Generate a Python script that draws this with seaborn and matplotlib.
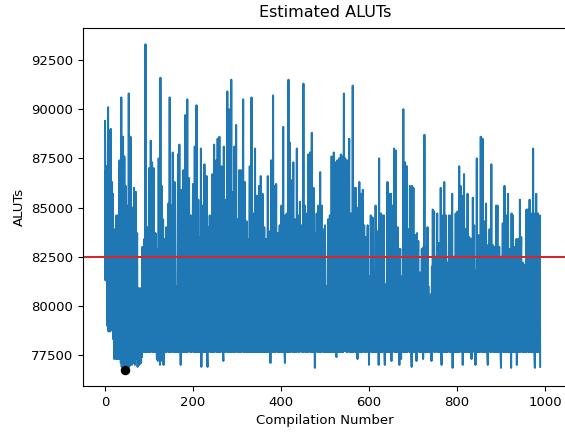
import numpy as np
import pandas as pd
import matplotlib
matplotlib.use("Agg")
import matplotlib.pyplot as plt
import seaborn as sns

# Estimated ALUT count for each compilation, in runs of 200 compilations
aluts_000 = [
    89400, 81300, 86900, 81400, 87100, 79000, 84500, 90100, 78700, 86000,
    79100, 88900, 78700, 89000, 80500, 78800, 86300, 79200, 85700, 78300,
    82600, 77300, 83900, 77400, 81000, 77300, 84600, 78100, 77300, 84600,
    79800, 77300, 82000, 87400, 77300, 80800, 77100, 90600, 76900, 84000,
    77200, 88600, 77000, 83000, 87600, 76750, 82000, 86100, 76900, 80500,
    85100, 77000, 84000, 77100, 90800, 76900, 82300, 77000, 88600, 77300,
    80000, 77000, 85000, 77300, 81000, 77100, 86000, 78000, 77000, 81000,
    85800, 77300, 79500, 83700, 76900, 80000, 77400, 80900, 77000, 80500,
    77300, 80900, 77100, 79500, 77400, 83000, 77700, 81500, 77650, 83400,
    78000, 77650, 93300, 77700, 81000, 77650, 84000, 77650, 80500, 77700,
    87000, 77650, 83000, 77650, 88400, 77700, 81500, 87300, 77650, 79000,
    77650, 87000, 77700, 82000, 77650, 83700, 77650, 80000, 77300, 82900,
    77200, 80500, 87500, 77650, 83000, 77000, 91600, 77650, 82000, 86100,
    77200, 80000, 84400, 77000, 81000, 77650, 83400, 77650, 80000, 84000,
    77650, 81500, 77700, 82500, 85200, 77650, 80000, 90600, 77650, 83000,
    77650, 85100, 77700, 81000, 87800, 77650, 82000, 77650, 86300, 86200,
    77650, 81000, 77700, 81000, 77650, 83000, 87700, 77650, 80500, 88200,
    77700, 82000, 77000, 85900, 77650, 80000, 77650, 83500, 86900, 77650,
    81000, 77700, 89700, 77650, 84000, 77650, 82000, 90500, 77650, 81500,
    79100, 86500, 77700, 82500, 77650, 84600, 77650, 80000, 77700, 83000,
]
aluts_200 = [
    86200, 77650, 81500, 77650, 88100, 77700, 82000, 77650, 90200, 77650,
    80500, 77700, 85400, 77650, 82000, 77650, 83500, 77700, 88000, 76900,
    81000, 77650, 85100, 77650, 80000, 77700, 87200, 77650, 82500, 77650,
    84000, 86600, 77650, 76900, 81000, 84000, 77650, 80500, 84600, 77700,
    82000, 77650, 83500, 77650, 86700, 77700, 81000, 77650, 88200, 77650,
    83000, 77700, 80000, 87400, 77650, 81500, 88500, 77650, 82000, 77700,
    88600, 77650, 84000, 77650, 81000, 87100, 77700, 82500, 77650, 77200,
    88100, 77650, 80000, 85400, 77650, 82000, 77700, 84000, 90900, 77650,
    83000, 77650, 90000, 77700, 85000, 77650, 82000, 91500, 77650, 81000,
    77700, 85800, 77650, 82500, 88100, 77650, 80500, 77650, 89200, 77700,
    81500, 84400, 77650, 80000, 77650, 86900, 77700, 83000, 77650, 86900,
    77650, 81500, 77700, 84000, 90500, 77650, 82000, 77650, 86300, 77700,
    81000, 77650, 84300, 77650, 80500, 77700, 83400, 77650, 82000, 87100,
    77650, 83000, 77650, 90600, 77700, 82000, 77650, 84700, 77650, 80500,
    77700, 88000, 77650, 82000, 77650, 85600, 77700, 81000, 77650, 83500,
    86100, 77650, 80000, 77650, 86600, 77700, 82500, 77650, 85700, 77650,
    81000, 79400, 84000, 77650, 80500, 77700, 83400, 77650, 81000, 77650,
    86600, 77700, 82000, 77650, 80000, 83800, 77100, 82000, 87400, 77650,
    81500, 77650, 90700, 77700, 83000, 77650, 86100, 77650, 81000, 86200,
    77700, 82000, 77650, 83700, 77650, 80500, 77700, 84100, 77650, 81000,
]
aluts_400 = [
    77650, 85100, 77700, 82500, 77650, 89100, 77650, 81500, 77700, 77100,
    84600, 77650, 80500, 84700, 77650, 82000, 77700, 91500, 77650, 83000,
    88300, 77650, 81000, 77700, 84000, 86400, 77650, 82000, 87300, 77650,
    80500, 77700, 84400, 77650, 82000, 77650, 88000, 77700, 81500, 84600,
    77650, 80000, 77650, 85300, 80600, 77700, 82500, 84100, 77650, 81000,
    77650, 91300, 77700, 83000, 85100, 77650, 80500, 77650, 84700, 77700,
    82000, 77650, 87700, 77650, 81500, 77700, 87800, 81800, 77650, 83500,
    88800, 77650, 82000, 77700, 86000, 77650, 80500, 76850, 83700, 77650,
    81000, 84700, 77700, 82500, 77650, 85100, 77650, 81000, 77700, 86800,
    77650, 82000, 77650, 85100, 77700, 81000, 83900, 77650, 80500, 77650,
    84100, 77650, 81000, 77700, 81000, 77650, 80000, 84400, 77650, 82000,
    77700, 84600, 77650, 81000, 77650, 87600, 77700, 83000, 77650, 81500,
    87800, 77650, 82000, 77700, 87300, 77650, 77400, 84000, 87400, 77650,
    81000, 77700, 87500, 77650, 83000, 77650, 87700, 77700, 82000, 77650,
    87600, 77650, 84000, 90800, 77700, 85000, 87500, 83000, 86000, 77650,
    87400, 77650, 82000, 77700, 85000, 88500, 77650, 81000, 77650, 84700,
    77700, 82500, 77650, 91200, 77650, 81000, 86000, 77700, 82000, 77650,
    86000, 77650, 80500, 77700, 77300, 85000, 77650, 81500, 86300, 77650,
    82000, 77700, 85700, 77650, 81000, 77650, 85900, 77700, 80500, 84100,
    77650, 81000, 83500, 77650, 80000, 77700, 82000, 84100, 77650, 80500,
]
aluts_600 = [
    77000, 81500, 77650, 80000, 84600, 77700, 81500, 77650, 84500, 77650,
    80000, 77700, 81800, 77650, 80500, 85100, 77650, 81000, 77700, 83800,
    77650, 82000, 77000, 87500, 77650, 81000, 77700, 84700, 77650, 82000,
    77650, 84600, 77700, 81000, 84600, 77650, 77000, 80000, 81100, 77650,
    80500, 77700, 86300, 77650, 82000, 77650, 85700, 77700, 81500, 77650,
    85700, 77200, 82000, 77650, 85100, 77700, 81000, 88000, 77650, 82500,
    77650, 87900, 77700, 81000, 77650, 84000, 77650, 80500, 82900, 77000,
    81000, 82900, 77650, 77300, 81500, 77650, 80000, 77700, 90000, 77650,
    82000, 77650, 87300, 77700, 81000, 77650, 87100, 77650, 80500, 83900,
    77700, 81000, 77650, 86100, 77650, 82000, 77700, 76900, 86100, 77650,
    81000, 86000, 77650, 80000, 77700, 83600, 77650, 81000, 77200, 83700,
    77650, 80500, 83300, 77700, 80000, 77650, 81700, 77650, 80000, 77700,
    82900, 77650, 81000, 77300, 83000, 77650, 88700, 77650, 81500, 77700,
    83000, 77650, 80000, 84000, 77650, 81000, 77700, 80500, 77650, 79500,
    77650, 80600, 77200, 82000, 77650, 84900, 77700, 81000, 84800, 77650,
    80500, 77650, 82500, 77700, 81000, 84700, 77650, 80500, 77650, 83200,
    77700, 81000, 77650, 86000, 77650, 77000, 82000, 84600, 77700, 81000,
    77650, 86300, 77650, 80500, 77700, 84600, 77650, 81000, 77650, 82200,
    77700, 80000, 84600, 77650, 81500, 77650, 84600, 77700, 82000, 85700,
    76850, 81000, 77650, 82500, 77650, 80500, 77700, 84700, 77650, 82000,
]
aluts_800 = [
    77650, 84800, 77700, 81000, 77650, 87100, 77650, 82500, 86100, 77700,
    81000, 77650, 85600, 77000, 81500, 77650, 86700, 77700, 82000, 77650,
    83900, 77650, 80500, 77700, 85700, 77650, 81000, 77650, 83500, 77700,
    80500, 77650, 83400, 77300, 81000, 77650, 85500, 77700, 82000, 84100,
    77650, 81800, 77000, 80500, 77650, 87500, 77650, 81000, 77700, 83600,
    77650, 80500, 77650, 82000, 88600, 77700, 81500, 77650, 88500, 77650,
    82000, 77700, 84300, 77650, 80500, 77650, 85200, 77700, 81000, 77650,
    77000, 83100, 77650, 80500, 83900, 77700, 81000, 77650, 87200, 77650,
    82000, 83100, 77700, 80500, 77650, 83000, 77650, 81000, 77700, 85100,
    77650, 82000, 85100, 77650, 80500, 77700, 83000, 77650, 81000, 77650,
    76850, 82500, 77700, 80000, 84200, 77650, 81000, 77650, 86100, 77700,
    82000, 77650, 84600, 77650, 80500, 77700, 85700, 77650, 81000, 77650,
    82900, 77700, 80500, 76850, 84700, 77650, 81000, 84600, 77650, 80500,
    77700, 83000, 77650, 81000, 77650, 83400, 77000, 80500, 77650, 83400,
    77700, 81000, 77650, 85400, 77650, 82000, 83500, 77700, 80500, 77650,
    82200, 77650, 80000, 77700, 82100, 77650, 81000, 77650, 84900, 77700,
    82000, 84900, 77650, 80500, 77650, 85400, 77700, 81000, 77650, 84700,
    77650, 82000, 77700, 88000, 77650, 81000, 77650, 76850, 84700, 77700,
    85700, 77650, 81000, 77650, 84700, 77700, 82000, 77650, 84600, 76900,
]

target_aluts = 82500

aluts = np.array(aluts_000 + aluts_200 + aluts_400 + aluts_600 + aluts_800)
df = pd.DataFrame({"Compilation Number": np.arange(len(aluts)), "ALUTs": aluts})

plt.rcParams.update({
    "xtick.labelsize": 9.5,
    "ytick.labelsize": 9.5,
    "axes.labelsize": 9.5,
    "axes.titlesize": 11.5,
})

DPI = 100
W, H = 565, 433
fig = plt.figure(figsize=(W / DPI, H / DPI), dpi=DPI)
# axes frame in pixels: left 83, right 567, top 28, bottom 386
ax = fig.add_axes([83 / W, (H - 386.1) / H, 484 / W, 358.1 / H])

sns.lineplot(data=df, x="Compilation Number", y="ALUTs", ax=ax,
             color="#1f77b4", linewidth=1.45)
ax.axhline(target_aluts, color="#d62728", linewidth=1.45)

# mark the smallest design
best = int(np.argmin(aluts))
ax.scatter([best], [aluts[best]], color="black", s=34, zorder=3)

ax.set_xlim(-50, 1050)
ax.set_title("Estimated ALUTs", pad=8)
ax.set_xlabel("Compilation Number")
ax.set_ylabel("ALUTs")

fig.savefig("out.png", dpi=DPI)
